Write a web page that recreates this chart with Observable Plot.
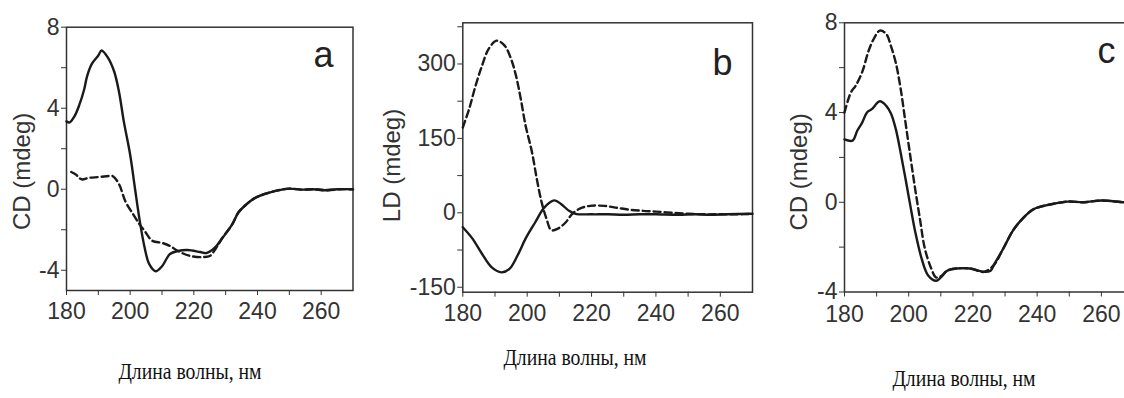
<!DOCTYPE html>
<html><head><meta charset="utf-8">
<script src="https://cdn.jsdelivr.net/npm/d3@7"></script>
<script src="https://cdn.jsdelivr.net/npm/@observablehq/plot@0.6"></script>
<style>
body{margin:0;background:#fff;}
#wrap{position:relative;width:1124px;height:398px;overflow:hidden;background:#fff;}
#wrap svg{position:absolute;top:0;}
.xl{position:absolute;font-family:"Liberation Serif","Times New Roman",serif;font-size:24px;color:#111;white-space:nowrap;transform:translateX(-50%) scaleX(0.82);line-height:1;}
</style></head><body><div id="wrap"></div>
<script>
// ---------- data ----------
const xMajorTicks = [180, 200, 220, 240, 260];
const xMinorTicks = [190, 210, 230, 250];
const xLabelText = "Длина волны, нм";

// panel a (CD)
const aSolidWl = [180,181,182.5,184,185.5,186.5,188,190,191,193,195,196.5,198,200,201.5,203,204.5,206,208,210,212.5,215,218,222,224,226.5,229,232,234,236.5,239,243,246,250,253.5,257.5,261,265,270];
const aSolidCd = [3.35,3.3,3.6,4.15,4.9,5.6,6.2,6.6,6.85,6.5,5.8,4.8,3.35,1.7,0.05,-1.55,-2.85,-3.7,-4.05,-3.8,-3.2,-3.05,-3.0,-3.1,-3.15,-2.9,-2.4,-1.75,-1.15,-0.75,-0.45,-0.2,-0.07,0.03,-0.02,0,-0.05,0,0];
const aDashWl = [181.5,183,184,185,187,190,192.5,194.5,196.5,198.5,201,203,204.5,207,210,212.5,215,219,223,225,227,229,232,234,236.5,239,243,246,250,254,258,262,266,270];
const aDashCd = [0.85,0.72,0.55,0.48,0.56,0.6,0.64,0.65,0.25,-0.6,-1.25,-1.75,-2.05,-2.55,-2.65,-2.8,-3.05,-3.3,-3.35,-3.3,-2.9,-2.4,-1.75,-1.15,-0.75,-0.45,-0.2,-0.07,0.03,-0.02,0,-0.05,0,0];
const aYMajor = [8, 4, 0, -4];
const aYMinor = [6, 2, -2];

// panel b (LD)
const bSolidWl = [180,183,186,189,192,194.5,197,199.5,202.5,205,207,208.5,210.5,213,215,220,225,230,235,240,247,252,257,262,270];
const bSolidLd = [-29,-52,-83,-110,-120,-113,-86,-52,-19,8,21,25,18,4,-2,-3,-3,-4,-3,-3,-4,-3,-4,-3,-2];
const bDashWl = [180,182,184,186,188,190.5,193,195,196.5,198,199.5,201.5,203,204.5,206,207.5,209.5,212,214,216.5,219.5,224,228,232,236,240,245,250,255,260,265,270];
const bDashLd = [172,210,257,297,330,347,337,310,277,230,176,122,68,21,-12,-35,-32,-19,-2,9,14,14,10,6,4,2.5,0,-2,-3,-3,-3,-2];
const bYMajor = [300, 150, 0, -150];
const bYMinor = [375, 225, 75, -75];

// panel c (CD)
const cSolidWl = [180,182.5,184,185.5,187,188.5,191,193,194.5,196,197.5,199,200.5,202,204,206,208.5,210,212,215,219,223.5,225.5,226.5,229.5,232.5,236,239,244,249.5,254.5,260,267,270];
const cSolidCd = [2.8,2.75,3.2,3.55,4.0,4.15,4.5,4.3,3.95,3.25,2.2,1.05,-0.15,-1.3,-2.5,-3.25,-3.5,-3.35,-3.05,-2.95,-2.95,-3.1,-3.05,-2.8,-2.05,-1.25,-0.65,-0.3,-0.1,0.03,0,0.08,0,0];
const cDashWl = [180,182,183.5,185.5,187.5,189,191,193,194.5,196,197.5,199,200.5,202,203.5,205,207,208.5,210,212,215,219,223.5,226.5,229.5,232.5,236,239,244,249.5,254.5,260,267,270];
const cDashCd = [4.0,4.9,5.2,5.8,6.75,7.25,7.65,7.5,6.95,6.2,5.05,3.55,2.05,0.6,-0.75,-2.05,-2.95,-3.35,-3.3,-3.05,-2.95,-2.95,-3.1,-2.8,-2.05,-1.25,-0.65,-0.3,-0.1,0.03,0,0.08,0,0];
const cYMajor = [8, 4, 0, -4];
const cYMinor = [6, 2, -2];

// ---------- drawing ----------
const toRows = (wl, v) => wl.map((w, i) => ({wl: w, v: v[i]}));
const wrap = document.getElementById("wrap");
const ink = "#1a1a1a";

function panel(o) {
  const svg = Plot.plot({
    width: o.width, height: 340,
    marginLeft: o.ml, marginRight: o.mr, marginTop: o.mt, marginBottom: 340 - o.fb,
    x: {domain: [180, 270], label: null},
    y: {domain: o.yDomain, label: null},
    style: {background: "transparent", fontFamily: "'Liberation Sans', Arial, sans-serif", fontSize: "23px", color: "#333", overflow: "visible"},
    marks: [
      Plot.frame({stroke: "#333", strokeWidth: 1.5}),
      Plot.axisX(xMajorTicks, {tickSize: 5, tickPadding: o.xpad, label: null, tickFormat: d => String(d)}),
      Plot.axisX(xMinorTicks, {tickSize: 5, label: null, tickFormat: () => ""}),
      Plot.axisY(o.yMajor, {tickSize: 5, tickPadding: 2, label: null, tickFormat: d => String(d)}),
      Plot.axisY(o.yMinor, {tickSize: 5, label: null, tickFormat: () => ""}),
      Plot.line(o.solid, {x: "wl", y: "v", stroke: ink, strokeWidth: 2.4, curve: "catmull-rom"}),
      Plot.line(o.dash, {x: "wl", y: "v", stroke: ink, strokeWidth: 2.4, strokeDasharray: "7,4", curve: "catmull-rom"}),
      Plot.text([o.ylabel], {frameAnchor: "left", rotate: -90, dx: o.ldx, dy: o.ldy, fontSize: 24, fill: "#333", textAnchor: "middle", lineAnchor: "middle"}),
      Plot.text([o.letter], {frameAnchor: "top-right", textAnchor: "end", lineAnchor: "top", dx: o.tdx, dy: o.tdy, fontSize: 36, fill: "#222"})
    ]
  });
  svg.style.left = o.left + "px";
  wrap.appendChild(svg);
}

panel({left: 0, width: 375, ml: 66, mr: 22.5, mt: 26.7, fb: 290, yDomain: [-5, 8], xpad: 7,
  yMajor: aYMajor, yMinor: aYMinor, solid: toRows(aSolidWl, aSolidCd), dash: toRows(aDashWl, aDashCd),
  ylabel: "CD (mdeg)", ldx: -44, ldy: 12.6, letter: "a", tdx: -19.5, tdy: 14});
panel({left: 375, width: 380, ml: 87.3, mr: 3, mt: 22.3, fb: 291.7, yDomain: [-160, 383], xpad: 7,
  yMajor: bYMajor, yMinor: bYMinor, solid: toRows(bSolidWl, bSolidLd), dash: toRows(bDashWl, bDashLd),
  ylabel: "LD (mdeg)", ldx: -70, ldy: 8, letter: "b", tdx: -20, tdy: 27});
panel({left: 750, width: 400, ml: 94, mr: 17, mt: 22.3, fb: 291.5, yDomain: [-4, 8], xpad: 9,
  yMajor: cYMajor, yMinor: cYMinor, solid: toRows(cSolidWl, cSolidCd), dash: toRows(cDashWl, cDashCd),
  ylabel: "CD (mdeg)", ldx: -45, ldy: 14.5, letter: "c", tdx: -18, tdy: 15});

// x-axis titles (below the SVGs)
[[190, 359], [575, 345], [964, 366]].forEach(([cx, top]) => {
  const d = document.createElement("div");
  d.className = "xl";
  d.textContent = xLabelText;
  d.style.left = cx + "px";
  d.style.top = top + "px";
  wrap.appendChild(d);
});
</script></body></html>
